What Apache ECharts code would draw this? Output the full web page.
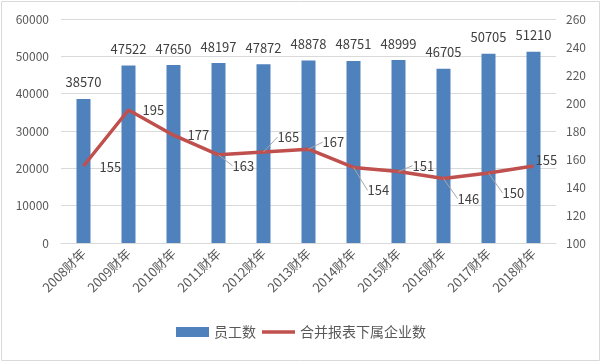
<!DOCTYPE html>
<html><head><meta charset="utf-8">
<script src="https://cdn.jsdelivr.net/npm/echarts@6/dist/echarts.min.js"></script>
<style>html,body{margin:0;padding:0;background:#fff}#c{width:602px;height:362px}</style>
</head><body><div id="c"></div>
<script>
const categories = ['2008财年','2009财年','2010财年','2011财年','2012财年','2013财年','2014财年','2015财年','2016财年','2017财年','2018财年'];
const employees = [38570,47522,47650,48197,47872,48878,48751,48999,46705,50705,51210];
const subsidiaries = [155,195,177,163,165,167,154,151,146,150,155];
const leftTicks = {min:0, max:60000, interval:10000};
const rightTicks = {min:100, max:260, interval:20};
const lineLabelDy = [1,0,0,11,-15,-7,23,-6,20,20,-6];
const lineLabelDx = [2,0,0,0,0,0,0,0,0,0,-12];
const leaderShown = [false,false,false,true,true,true,true,true,true,true,false];

const font = "'Microsoft YaHei','Noto Sans CJK SC',sans-serif";
const chart = echarts.init(document.getElementById('c'));
chart.setOption({
  animation:false,
  textStyle:{fontFamily:font},
  graphic:[{type:'rect',shape:{x:1.5,y:1.5,width:598,height:359},style:{fill:'none',stroke:'#d9d9d9',lineWidth:1}}],
  grid:{left:61,right:46,top:19,bottom:119},
  legend:{bottom:18,left:'center',itemGap:6,itemWidth:33,itemHeight:10,
    textStyle:{fontSize:14,color:'#595959',fontFamily:font},
    data:[{name:'员工数',icon:'rect'},{name:'合并报表下属企业数',icon:'path://M0,0 L33,0 L33,3.5 L0,3.5 Z'}]},
  xAxis:{type:'category',data:categories,
    axisLine:{lineStyle:{color:'#d9d9d9'}},axisTick:{show:false},
    axisLabel:{rotate:45,fontSize:13,color:'#595959',margin:8,interval:0,fontFamily:font}},
  yAxis:[
    {type:'value',min:leftTicks.min,max:leftTicks.max,interval:leftTicks.interval,
     axisLine:{show:false},axisTick:{show:false},
     axisLabel:{fontSize:12,color:'#595959',margin:12,formatter:function(v){return String(v);}},
     splitLine:{lineStyle:{color:'#d9d9d9'}}},
    {type:'value',min:rightTicks.min,max:rightTicks.max,interval:rightTicks.interval,
     axisLine:{show:false},axisTick:{show:false},
     axisLabel:{fontSize:12,color:'#595959',margin:10},
     splitLine:{show:false}}
  ],
  series:[
    {name:'员工数',type:'bar',data:employees,barWidth:14,
     itemStyle:{color:'#4F81BD'},
     label:{show:true,position:'top',distance:10,fontSize:13,color:'#404040'}},
    {name:'合并报表下属企业数',type:'line',yAxisIndex:1,
     data:subsidiaries.map(function(v,i){return {value:v,labelLine:{show:leaderShown[i]}};}),
     symbol:'circle',symbolSize:0.1,showSymbol:true,
     lineStyle:{color:'#C0504D',width:3.5},itemStyle:{color:'#C0504D'},
     label:{show:true,position:'right',distance:14,fontSize:13,color:'#404040'},
     labelLine:{show:true,lineStyle:{color:'#a6a6a6',width:1}},
     labelLayout:function(p){return {dx:lineLabelDx[p.dataIndex],dy:lineLabelDy[p.dataIndex]};}}
  ]
});
</script></body></html>
